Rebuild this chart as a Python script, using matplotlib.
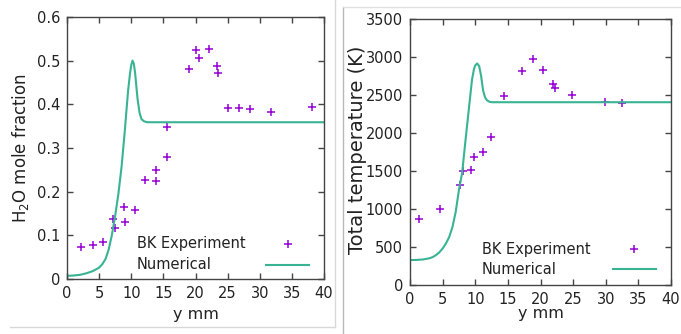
import numpy as np
import matplotlib.pyplot as plt
from matplotlib.lines import Line2D

# 측정값 (BK Experiment) - H2O mole fraction
h2o_exp_x = [2.2, 4.0, 5.6, 7.15, 7.45, 8.8, 9.1, 10.6, 12.2, 13.9, 13.9, 15.5, 15.5,
             19.0, 20.15, 20.5, 22.1, 23.4, 23.5, 25.1, 26.7, 28.5, 31.8, 38.1]
h2o_exp_y = [0.073, 0.079, 0.085, 0.138, 0.117, 0.166, 0.130, 0.159, 0.227, 0.250, 0.225,
             0.348, 0.279, 0.480, 0.524, 0.505, 0.527, 0.488, 0.472, 0.392, 0.392, 0.389,
             0.383, 0.394]

# 수치해석 결과 (Numerical) - H2O mole fraction
h2o_num_x = [0, 1, 2, 3, 4, 5, 5.5, 6, 6.5, 7, 7.5, 8, 8.5, 9, 9.5, 9.8, 10.0, 10.2,
             10.4, 10.6, 10.8, 11.0, 11.3, 11.6, 12.0, 12.5, 13, 40]
h2o_num_y = [0.007, 0.008, 0.0095, 0.013, 0.018, 0.026, 0.034, 0.046, 0.068, 0.102, 0.145,
             0.195, 0.258, 0.34, 0.43, 0.47, 0.49, 0.500, 0.493, 0.472, 0.44, 0.41, 0.38,
             0.366, 0.361, 0.359, 0.359, 0.359]

# 측정값 - total temperature
t_exp_x = [1.4, 4.55, 7.6, 8.05, 9.4, 9.85, 11.15, 12.35, 14.45, 17.2, 18.8, 20.35,
           21.9, 22.25, 24.9, 29.9, 32.5]
t_exp_y = [867, 999, 1314, 1498, 1516, 1678, 1748, 1949, 2492, 2816, 2974, 2825,
           2641, 2589, 2497, 2413, 2400]

# 수치해석 결과 - total temperature
t_num_x = [0, 1, 2, 3, 3.5, 4, 4.5, 5, 5.5, 6, 6.5, 7, 7.5, 8, 8.5, 9, 9.5, 9.8, 10.0,
           10.3, 10.6, 10.9, 11.2, 11.5, 11.8, 12.2, 12.6, 40]
t_num_y = [328, 330, 336, 352, 368, 395, 430, 480, 545, 630, 760, 960, 1250, 1480, 1900,
           2300, 2700, 2840, 2890, 2915, 2880, 2750, 2560, 2470, 2430, 2410, 2405, 2405]

x_ticks = np.arange(0, 41, 5)
legend_labels = ['BK Experiment', 'Numerical']

exp_color = '#9400d3'
num_color = '#38b393'
text_color = '#222222'
fs = 10.5

fig = plt.figure(figsize=(6.81, 3.34), dpi=100)
ax1 = fig.add_axes([67/681, 55/334, 257/681, 262/334])
ax2 = fig.add_axes([410/681, 49/334, 261/681, 266/334])


def style_axes(ax):
    for s in ax.spines.values():
        s.set_color('#444444')
        s.set_linewidth(1.0)
    ax.tick_params(direction='in', length=4, width=1, color='#444444',
                   top=True, right=True, labelsize=fs, colors=text_color, pad=5)
    ax.set_xlim(0, 40)
    ax.set_xticks(x_ticks)


# gnuplot 스타일 범례: 글자는 왼쪽, 샘플은 오른쪽
def key(ax, tx, y1, y2, x0, x1):
    ax.text(tx, y1, legend_labels[0], transform=ax.transAxes, fontsize=fs,
            color=text_color, va='center', ha='left')
    ax.text(tx, y2, legend_labels[1], transform=ax.transAxes, fontsize=fs,
            color=text_color, va='center', ha='left')
    ax.plot([(x0 + x1) / 2], [y1], transform=ax.transAxes, linestyle='none',
            marker='+', color=exp_color, markersize=6, markeredgewidth=1.1, clip_on=False)
    ax.plot([x0, x1], [y2, y2], transform=ax.transAxes, color=num_color,
            linewidth=1.5, clip_on=False)


ax1.plot(h2o_exp_x, h2o_exp_y, linestyle='none', marker='+', color=exp_color,
         markersize=6, markeredgewidth=1.1)
ax1.plot(h2o_num_x, h2o_num_y, color=num_color, linewidth=1.5)
style_axes(ax1)
ax1.set_ylim(0, 0.6)
ax1.set_yticks(np.arange(0, 0.61, 0.1))
ax1.set_yticklabels(['0', '0.1', '0.2', '0.3', '0.4', '0.5', '0.6'])
ax1.set_xlabel('y mm', fontsize=fs + 1, color=text_color)
ax1.xaxis.set_label_coords(0.5, -0.108)
ax1.set_ylabel('H$_2$O mole fraction', fontsize=fs + 1.5, color=text_color)
ax1.yaxis.set_label_coords(-0.14, 0.5)
key(ax1, 0.272, 0.134, 0.055, 0.776, 0.942)

ax2.plot(t_exp_x, t_exp_y, linestyle='none', marker='+', color=exp_color,
         markersize=6, markeredgewidth=1.1)
ax2.plot(t_num_x, t_num_y, color=num_color, linewidth=1.5)
style_axes(ax2)
ax2.set_ylim(0, 3500)
ax2.set_yticks(np.arange(0, 3501, 500))
ax2.set_xlabel('y mm', fontsize=fs + 1, color=text_color)
ax2.xaxis.set_label_coords(0.5, -0.08)
ax2.set_ylabel('Total temperature (K)', fontsize=14, color=text_color)
ax2.yaxis.set_label_coords(-0.165, 0.51)
key(ax2, 0.275, 0.134, 0.059, 0.777, 0.943)

# 캡처 이미지의 패널 경계선
fig.add_artist(Line2D([335/681, 335/681], [1, 7/334], color='#d8d8d8', lw=1))
fig.add_artist(Line2D([10/681, 335/681], [7/334, 7/334], color='#d8d8d8', lw=1))
fig.add_artist(Line2D([343/681, 343/681], [0, 327/334], color='#b8b8b8', lw=1))
fig.add_artist(Line2D([343/681, 1], [327/334, 327/334], color='#e0e0e0', lw=1))

fig.savefig('out.png', dpi=100)
